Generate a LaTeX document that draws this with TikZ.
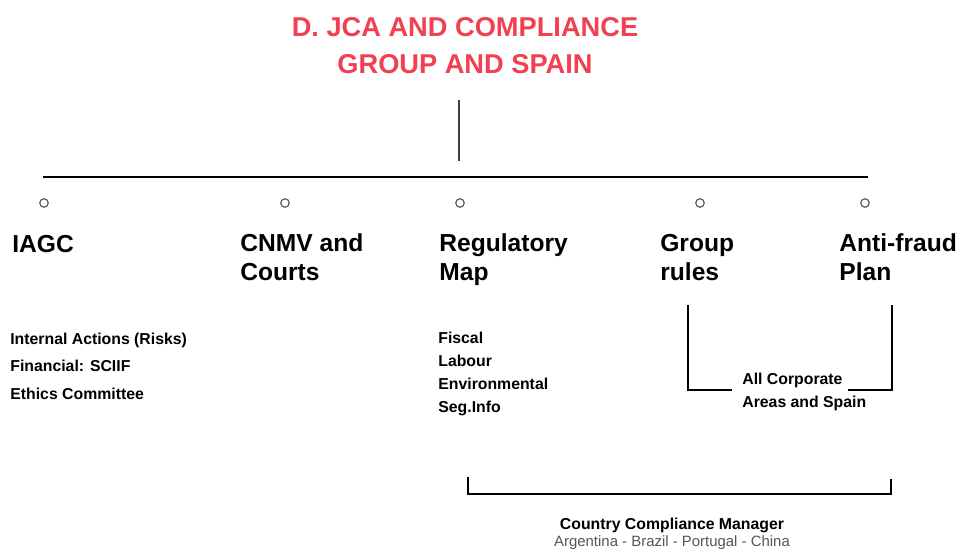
\documentclass[tikz,border=0pt]{standalone}
\usepackage{fontspec}
\setmainfont{Liberation Sans}
\definecolor{titlered}{RGB}{240,64,82}
\definecolor{dotgray}{RGB}{95,95,95}
\definecolor{notegray}{RGB}{85,85,85}

\begin{document}
\begin{tikzpicture}[x=0.02cm,y=0.02cm,
   head/.style={anchor=base west,inner sep=0pt,align=left,font=\bfseries\fontsize{14}{16}\selectfont},
   items/.style={anchor=base west,inner sep=0pt,align=left,font=\bfseries\fontsize{9}{13}\selectfont},
   dot/.style={circle,draw=dotgray,line width=0.7pt,minimum size=0.17cm,inner sep=0pt},
   bracket/.style={black,line width=1.2pt}]
   \useasboundingbox (0,0) rectangle (960,-552);
   % base of a node with several lines is the base of its last line
   \node (title) at (465,-73) [anchor=base,align=center,inner sep=0pt,text=titlered,font=\bfseries\fontsize{15.5}{20.5}\selectfont] {D. JCA AND COMPLIANCE\\GROUP AND SPAIN};
   \coordinate (stemtop) at (459,-100);
   \coordinate (stembot) at (459,-161);
   \draw[black!75,line width=0.8pt] (stemtop)--(stembot);
   \coordinate (barleft) at (43,-177);
   \coordinate (barright) at (868,-177);
   \draw[black,line width=1.4pt] (barleft)--(barright);
   % circles under the bar
   \node[dot] (dotiagc) at (44,-203) {};
   \node[dot] (dotcnmv) at (285,-203) {};
   \node[dot] (dotreg) at (460,-203) {};
   \node[dot] (dotgrp) at (700,-203) {};
   \node[dot] (dotanti) at (865,-203) {};
   % headings
   \node[head] (iagc) at (12,-252) {IAGC};
   \node[head] (cnmv) at (240,-280) {CNMV and\\Courts};
   \node[head] (regmap) at (439,-280) {Regulatory\\Map};
   \node[head] (grprules) at (660,-280) {Group\\rules};
   \node[head] (antifraud) at (839,-280) {Anti-fraud\\Plan};
   % lists
   \node[items,font=\bfseries\fontsize{9}{15.6}\selectfont] (iagcitems) at (10,-399) {Internal Actions (Risks)\\Financial: SCIIF\\Ethics Committee};
   \node[items] (regitems) at (438,-412) {Fiscal\\Labour\\Environmental\\Seg.Info};
   \node[items,font=\bfseries\fontsize{9}{12.8}\selectfont] (corp) at (742,-407) {All Corporate\\Areas and Spain};
   % bracket for group rules and anti-fraud plan
   \coordinate (grptop) at (688,-305);
   \coordinate (grpcorner) at (688,-390);
   \coordinate (grpend) at (732,-390);
   \coordinate (antiend) at (848,-390);
   \coordinate (anticorner) at (892,-390);
   \coordinate (antitop) at (892,-305);
   \draw[bracket] (grptop)--(grpcorner)--(grpend);
   \draw[bracket] (antiend)--(anticorner)--(antitop);
   % bracket for country managers
   \coordinate (ccmleft) at (468,-477);
   \coordinate (ccmleftc) at (468,-494);
   \coordinate (ccmrightc) at (891,-494);
   \coordinate (ccmright) at (891,-479);
   \draw[bracket] (ccmleft)--(ccmleftc)--(ccmrightc)--(ccmright);
   \node (ccm) at (672,-529) [anchor=base,inner sep=0pt,font=\bfseries\fontsize{9}{11}\selectfont] {Country Compliance Manager};
   \node (countries) at (672,-546) [anchor=base,inner sep=0pt,text=notegray,font=\fontsize{8.5}{10}\selectfont] {Argentina - Brazil - Portugal - China};
\end{tikzpicture}
\end{document}
